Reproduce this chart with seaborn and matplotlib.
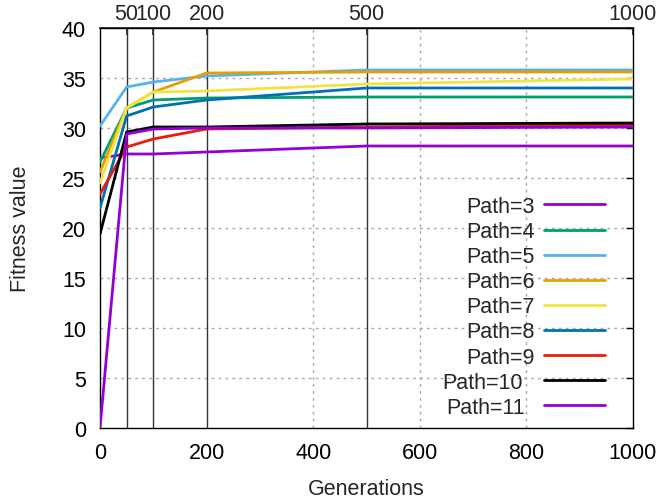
import pandas as pd
import matplotlib
matplotlib.use("Agg")
import matplotlib.pyplot as plt
import seaborn as sns

generations = [0, 50, 100, 200, 500, 1000]

path_3 = [27.0, 27.4, 27.4, 27.6, 28.2, 28.2]
path_4 = [26.6, 32.0, 32.8, 33.0, 33.1, 33.1]
path_5 = [30.2, 34.1, 34.6, 35.2, 35.8, 35.8]
path_6 = [25.6, 32.0, 33.6, 35.5, 35.6, 35.6]
path_7 = [24.5, 32.0, 33.6, 33.7, 34.4, 34.9]
path_8 = [22.0, 31.2, 32.1, 32.8, 34.0, 34.0]
path_9 = [23.4, 28.1, 28.9, 29.9, 30.1, 30.3]
path_10 = [19.4, 29.6, 30.1, 30.1, 30.4, 30.5]
path_11 = [0.0, 29.4, 29.9, 30.0, 30.0, 30.1]

series = {
    "Path=3": path_3, "Path=4": path_4, "Path=5": path_5,
    "Path=6": path_6, "Path=7": path_7, "Path=8": path_8,
    "Path=9": path_9, "Path=10": path_10, "Path=11": path_11,
}
colors = ["#9400d3", "#009e73", "#56b4e9", "#e69f00", "#f0e442",
          "#0072b2", "#e51e10", "#000000", "#9400d3"]

top_ticks = [50, 100, 200, 500, 1000]

rows = []
for name, vals in series.items():
    for g, v in zip(generations, vals):
        rows.append({"Generations": g, "Fitness": v, "Path": name})
df = pd.DataFrame(rows)

sns.set_theme(style="white")
plt.rcParams["font.family"] = ["Liberation Sans", "DejaVu Sans"]
fs = 15.5

fig = plt.figure(figsize=(6.58, 5.02), dpi=100)
ax = fig.add_axes([100 / 658, 1 - 429 / 502, 533 / 658, 400 / 502])

# grid first so the curves sit on top
for y in range(5, 40, 5):
    ax.axhline(y, color="#aaaaaa", lw=1, ls=(0, (2, 3)), zorder=0)
for x in [400, 600, 800]:
    ax.axvline(x, color="#aaaaaa", lw=1, ls=(0, (2, 3)), zorder=0)
for x in [50, 100, 200, 500]:
    ax.axvline(x, color="#333333", lw=1, zorder=1)

sns.lineplot(data=df, x="Generations", y="Fitness", hue="Path",
             hue_order=list(series.keys()), palette=colors,
             linewidth=2, ax=ax, zorder=3)

ax.set_xlim(0, 1000)
ax.set_ylim(0, 40)
ax.set_xticks(range(0, 1001, 200))
ax.set_yticks(range(0, 41, 5))
ax.set_xlabel("Generations", fontsize=fs, labelpad=11)
ax.set_ylabel("Fitness value", fontsize=fs, labelpad=22)
ax.tick_params(axis="both", direction="in", length=5, width=1,
               labelsize=fs, colors="black", right=True, pad=10)
for sp in ax.spines.values():
    sp.set_color("black")
    sp.set_linewidth(1)

top = ax.secondary_xaxis("top")
top.set_xticks(top_ticks)
top.tick_params(direction="in", length=5, labelsize=fs, pad=3)

handles, labels = ax.get_legend_handles_labels()
leg = ax.legend(handles, labels, loc="lower right", bbox_to_anchor=(0.975, -0.012),
                frameon=False, markerfirst=False, fontsize=fs,
                handlelength=2.8, handletextpad=1.0, labelspacing=0.19,
                borderaxespad=0.3)

# right-align legend labels like gnuplot does
fig.canvas.draw()
texts = leg.get_texts()
widths = [t.get_window_extent().width for t in texts]
wmax = max(widths)
for t, w in zip(texts, widths):
    t.set_position((wmax - w, 0))

fig.savefig("out.png", dpi=100)
plt.close(fig)
